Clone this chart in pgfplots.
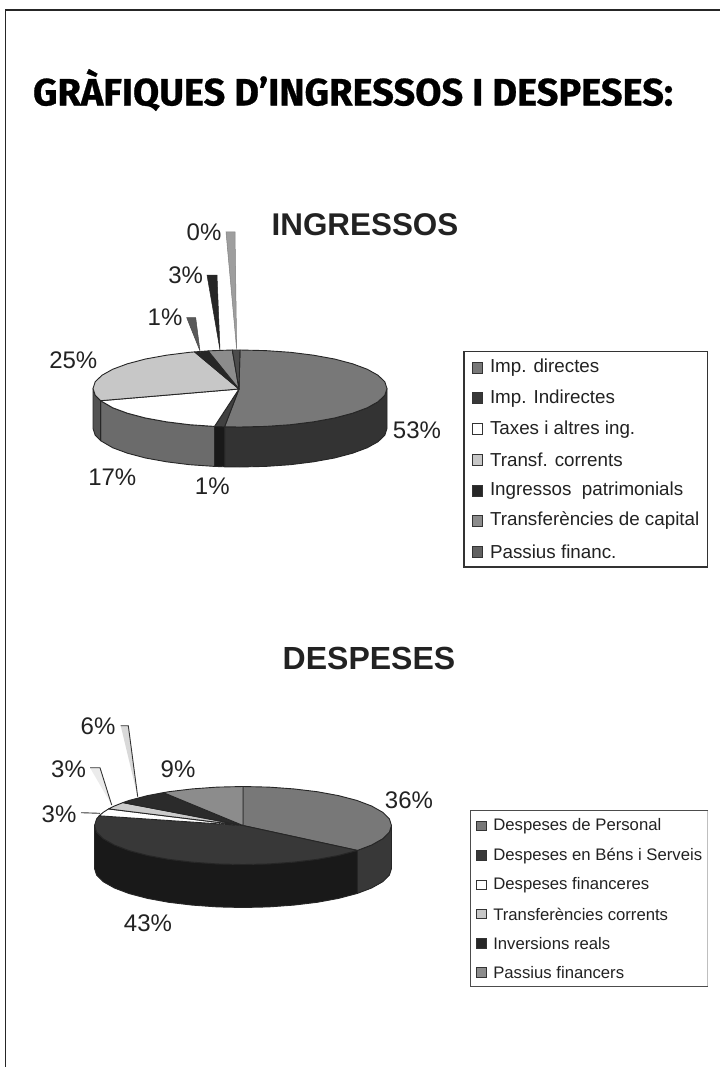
\documentclass[border=0pt]{standalone}
\usepackage{fontspec}
\usepackage{pgfplots}
\pgfplotsset{compat=1.18}
\setmainfont{Liberation Sans}
\newfontfamily\titlefont[BoldFeatures={FakeBold=0.7}]{Fira Sans}
\definecolor{ink}{HTML}{222222}
\newcommand{\px}[1]{\fontsize{#1}{#1}\selectfont}
\begin{document}
\begin{tikzpicture}
\path[use as bounding box] (0,0) rectangle (720pt,1067pt);
\begin{axis}[at={(0,0)},anchor=south west,scale only axis,width=720pt,height=1067pt,
  xmin=0,xmax=720,ymin=0,ymax=1067,y dir=reverse,hide axis,clip=true]
\tikzset{lab/.style={text=ink,inner sep=0pt,outer sep=0pt},wlab/.style={lab,anchor=west}}
% page frame
\addplot[black!85,line width=1.5pt] coordinates {(5.5,1067) (5.5,10) (720,10)};
% ---- INGRESSOS: side faces
\pgfplotsset{pieline/.style={draw=black!85,line width=0.9pt,line join=round}}
\addplot[pieline,fill=black!80] coordinates {(387,388.5)(384.8,395.2)(378.1,401.7)(367.3,407.75)(352.6,413.2)(334.5,418)(313.5,421.8)(290.3,424.7)(265.5,426.4)(240,427)(224.6,426.8)
 (224.6,466.8)(240,467)(265.5,466.4)(290.3,464.7)(313.5,461.8)(334.5,458)(352.6,453.2)(367.3,447.75)(378.1,441.7)(384.8,435.2)(387,428.5)} -- cycle;
\addplot[pieline,fill=black!90] coordinates {(224.6,426.8)(214.5,426.4)(214.5,466.4)(224.6,466.8)} -- cycle;
\addplot[pieline,fill=black!58] coordinates {(214.5,426.4)(189.7,424.7)(166.5,421.8)(145.5,418)(127.4,413.2)(112.7,407.75)(100.6,400.7)
 (100.6,440.7)(112.7,447.75)(127.4,453.2)(145.5,458)(166.5,461.8)(189.7,464.7)(214.5,466.4)} -- cycle;
\addplot[pieline,fill=black!68] coordinates {(100.6,400.7)(95.2,395.2)(93,388.5)(93,428.5)(95.2,435.2)(100.6,440.7)} -- cycle;
% ---- INGRESSOS: top faces
\addplot[pieline,fill=black!53] coordinates {(239,389)(240,350)(265.5,350.6)(290.3,352.3)(313.5,355.2)(334.5,359)(352.6,363.8)(367.3,369.25)(378.1,375.3)(384.8,381.8)(387,388.5)(384.8,395.2)(378.1,401.7)(367.3,407.75)(352.6,413.2)(334.5,418)(313.5,421.8)(290.3,424.7)(265.5,426.4)(240,427)(224.6,426.8)} -- cycle;
\addplot[pieline,fill=black!75] coordinates {(239,389)(224.6,426.8)(214.5,426.4)} -- cycle;
\addplot[pieline,fill=white] coordinates {(239,389)(214.5,426.4)(189.7,424.7)(166.5,421.8)(145.5,418)(127.4,413.2)(112.7,407.75)(100.6,400.7)} -- cycle;
\addplot[pieline,fill=black!22] coordinates {(239,389)(100.6,400.7)(95.2,395.2)(93,388.5)(95.2,381.8)(101.9,375.3)(112.7,369.25)(127.4,363.8)(145.5,359)(166.5,355.2)(189.7,352.3)(194.6,351.9)} -- cycle;
\addplot[pieline,fill=black!85] coordinates {(239,389)(194.6,351.9)(208.2,350.9)} -- cycle;
\addplot[pieline,fill=black!45] coordinates {(239,389)(208.2,350.9)(214.5,350.6)(232.3,350)} -- cycle;
\addplot[pieline,fill=black!70] coordinates {(239,389)(232.3,350)(240,350)} -- cycle;
% ---- INGRESSOS: leader wedges
\addplot[draw=black!70,line width=0.5pt,fill=black!65] coordinates {(186.7,317.7)(195.7,317.7)(200,351)} -- cycle;
\addplot[draw=black!85,line width=0.5pt,fill=black!85] coordinates {(207,275)(217,275)(220,350)} -- cycle;
\addplot[draw=black!50,line width=0.5pt,fill=black!38] coordinates {(226,232)(235,232)(236.7,350)} -- cycle;
% ---- DESPESES: side faces
\addplot[pieline,fill=black!78] coordinates {(391.5,825.5)(389.3,832.3)(382.6,838.8)(371.6,845)(357.4,850.4)(357.4,893.4)(371.6,888)(382.6,881.8)(389.3,875.3)(391.5,868.5)} -- cycle;
\addplot[pieline,fill=black!90] coordinates {(357.4,850.4)(338.5,855.4)(317.25,859.3)(293.8,862.1)(268.8,863.9)(243,864.5)(217.2,863.9)(192.2,862.1)(168.75,859.3)(147.5,855.4)(129.2,850.6)(114.4,845)(103.4,838.8)(96.7,832.3)(94.5,825.5)
 (94.5,868.5)(96.7,875.3)(103.4,881.8)(114.4,888)(129.2,893.6)(147.5,898.4)(168.75,902.3)(192.2,905.1)(217.2,906.9)(243,907.5)(268.8,906.9)(293.8,905.1)(317.25,902.3)(338.5,898.4)(357.4,893.4)} -- cycle;
% ---- DESPESES: top faces
\addplot[pieline,fill=black!53] coordinates {(243,825.5)(243,786.5)(268.8,787.1)(293.8,788.9)(317.25,791.7)(338.5,795.6)(356.8,800.4)(371.6,806)(382.6,812.2)(389.3,818.7)(391.5,825.5)(389.3,832.3)(382.6,838.8)(371.6,845)(357.4,850.4)} -- cycle;
\addplot[pieline,fill=black!78] coordinates {(243,825.5)(357.4,850.4)(338.5,855.4)(317.25,859.3)(293.8,862.1)(268.8,863.9)(243,864.5)(217.2,863.9)(192.2,862.1)(168.75,859.3)(147.5,855.4)(129.2,850.6)(114.4,845)(103.4,838.8)(96.7,832.3)(94.5,825.5)(96.7,818.7)(99.2,815.8)} -- cycle;
\addplot[pieline,fill=white] coordinates {(243,825.5)(99.2,815.8)(103.4,812.2)(108.6,808.9)} -- cycle;
\addplot[pieline,fill=black!20] coordinates {(243,825.5)(108.6,808.9)(114.4,806)(122.9,802.6)} -- cycle;
\addplot[pieline,fill=black!83] coordinates {(243,825.5)(122.9,802.6)(129.2,800.4)(147.5,795.6)(163.4,792.6)} -- cycle;
\addplot[pieline,fill=black!45] coordinates {(243,825.5)(163.4,792.6)(168.75,791.7)(192.2,788.9)(217.2,787.1)(243,786.5)} -- cycle;
% ---- DESPESES: leaders
\addplot[draw=none,fill=black!15] coordinates {(120.7,725.7)(128.3,725.7)(137.7,796.7)} -- cycle;
\addplot[black!80,line width=0.9pt] coordinates {(120.7,725.7)(128.3,725.7)(137.7,796.7)};
\addplot[draw=none,fill=black!8] coordinates {(90,767.7)(100,767.7)(111.7,805)} -- cycle;
\addplot[black!80,line width=0.9pt] coordinates {(90,767.7)(100,767.7)(111.7,805)};
\addplot[black!80,line width=0.9pt] coordinates {(81,812.7)(100,813.3)};
% ---- legend boxes
\addplot[draw=black!80,line width=1.1pt,fill=white] coordinates {(464,351.7)(707.3,351.7)(707.3,567)(464,567)} -- cycle;
\addplot[draw=none,fill=white] coordinates {(470.7,810.7)(708,810.7)(708,986.7)(470.7,986.7)} -- cycle;
\addplot[black!25,line width=0.7pt] coordinates {(707.7,810.7)(707.7,986.7)};
\addplot[black!70,line width=1.1pt] coordinates {(708,810.7)(470.7,810.7)(470.7,986.7)(708,986.7)};
% ---- legend keys
\pgfplotsset{key/.style={only marks,mark=square*,mark size=5.4pt,mark options={draw=black!80,line width=1pt,fill=#1}}}
\addplot[key=black!53] coordinates {(477.5,367.7)};
\addplot[key=black!78] coordinates {(477.5,398.3)};
\addplot[key=white] coordinates {(477.5,429.3)};
\addplot[key=black!22] coordinates {(477.5,460)};
\addplot[key=black!85] coordinates {(477.5,490.7)};
\addplot[key=black!45] coordinates {(477.5,521)};
\addplot[key=black!62] coordinates {(477.5,551.7)};
\pgfplotsset{key2/.style={only marks,mark=square*,mark size=4.8pt,mark options={draw=black!80,line width=1pt,fill=#1}}}
\addplot[key2=black!53] coordinates {(481.5,826)};
\addplot[key2=black!78] coordinates {(481.5,855.7)};
\addplot[key2=white] coordinates {(481.5,885)};
\addplot[key2=black!22] coordinates {(481.5,914)};
\addplot[key2=black!85] coordinates {(481.5,943.3)};
\addplot[key2=black!45] coordinates {(481.5,972.3)};
% ---- text
\node[wlab,text=black] at (axis cs:33,90) {\titlefont\bfseries\px{38}GRÀFIQUES D’INGRESSOS I DESPESES:};
\node[lab] at (axis cs:365,224.5) {\bfseries\px{31.4}INGRESSOS};
\node[lab] at (axis cs:369,658) {\bfseries\px{32}DESPESES};
\node[lab] at (axis cs:204,232.7) {\px{24}0\%};
\node[lab] at (axis cs:185.7,275) {\px{24}3\%};
\node[lab] at (axis cs:165,317.7) {\px{24}1\%};
\node[lab] at (axis cs:73.3,360.7) {\px{24}25\%};
\node[lab] at (axis cs:417,430) {\px{24}53\%};
\node[lab] at (axis cs:112.3,477.3) {\px{24}17\%};
\node[lab] at (axis cs:212.3,486) {\px{24}1\%};
\node[lab] at (axis cs:98,726) {\px{24}6\%};
\node[lab] at (axis cs:68.5,769) {\px{24}3\%};
\node[lab] at (axis cs:59,814) {\px{24}3\%};
\node[lab] at (axis cs:178,769) {\px{24}9\%};
\node[lab] at (axis cs:409,800) {\px{24}36\%};
\node[lab] at (axis cs:148,923) {\px{24}43\%};
\node[wlab] at (axis cs:490,367.7) {\px{18.8}Imp. directes};
\node[wlab] at (axis cs:490,398.3) {\px{18.8}Imp. Indirectes};
\node[wlab] at (axis cs:490,429.3) {\px{18.8}Taxes i altres ing.};
\node[wlab] at (axis cs:490,460) {\px{18.8}Transf. corrents};
\node[wlab] at (axis cs:490,490.7) {\px{18.8}Ingressos\ \ patrimonials};
\node[wlab] at (axis cs:490,521) {\px{18.8}Transferències de capital};
\node[wlab] at (axis cs:490,551.7) {\px{18.8}Passius financ.};
\node[wlab] at (axis cs:493.3,826) {\px{16.7}Despeses de Personal};
\node[wlab] at (axis cs:493.3,855.7) {\px{16.7}Despeses en Béns i Serveis};
\node[wlab] at (axis cs:493.3,885) {\px{16.7}Despeses financeres};
\node[wlab] at (axis cs:493.3,914) {\px{16.7}Transferències corrents};
\node[wlab] at (axis cs:493.3,943.3) {\px{16.7}Inversions reals};
\node[wlab] at (axis cs:493.3,972.3) {\px{16.7}Passius financers};
\end{axis}
\end{tikzpicture}
\end{document}
